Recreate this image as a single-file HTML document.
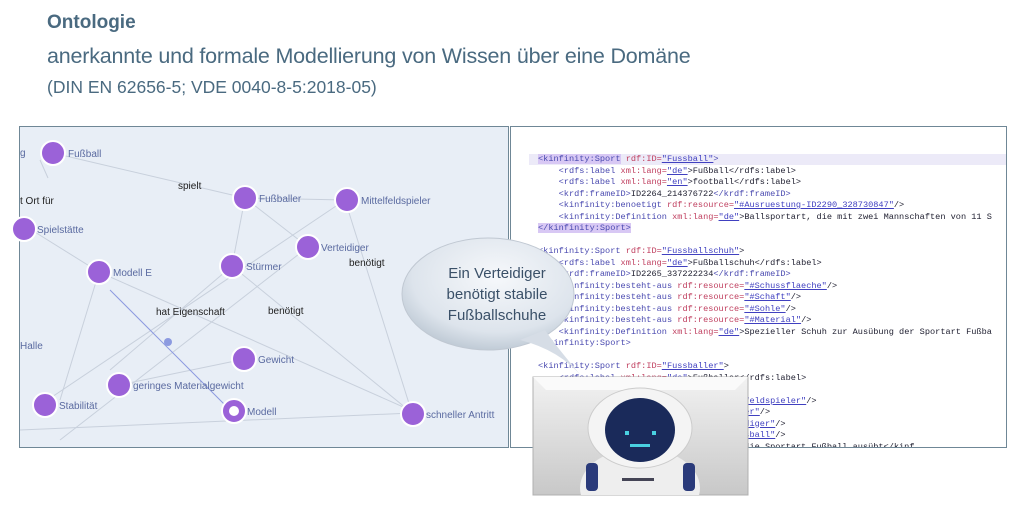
<!DOCTYPE html>
<html><head><meta charset="utf-8"><style>
body{margin:0;width:1030px;height:511px;background:#fff;position:relative;overflow:hidden;font-family:"Liberation Sans",sans-serif}
.t1{position:absolute;left:47px;top:12px;font-size:19px;font-weight:bold;color:#4a6a80}
.t2{position:absolute;left:47px;top:44px;font-size:21.5px;color:#4a6a80;letter-spacing:-0.2px}
.t3{position:absolute;left:47px;top:77px;font-size:17.5px;color:#4a6a80}
.code{position:absolute;left:510px;top:126px;width:497px;height:322px;border:1px solid #6f8796;box-sizing:border-box;background:#fff;overflow:hidden;font-family:"Liberation Mono",monospace;font-size:8.6px;line-height:11.5px;white-space:pre;color:#223}
.k{color:#4a4ab0}.a{color:#c04060}.v{color:#4040c0;text-decoration:underline}
</style></head><body>
<div class="t1">Ontologie</div>
<div class="t2">anerkannte und formale Modellierung von Wissen über eine Domäne</div>
<div class="t3">(DIN EN 62656-5; VDE 0040-8-5:2018-05)</div>

<svg style="position:absolute;left:0;top:0" width="1030" height="511">
<rect x="19.5" y="126.5" width="489" height="321" fill="#e8eef6" stroke="#6f8796"/>
<g stroke="#c8d0dc" stroke-width="1" fill="none">
<line x1="53" y1="153" x2="245" y2="198"/><line x1="245" y1="198" x2="345" y2="200"/>
<line x1="245" y1="198" x2="232" y2="266"/><line x1="245" y1="198" x2="308" y2="247"/>
<line x1="345" y1="200" x2="40" y2="405"/><line x1="345" y1="200" x2="412" y2="413"/>
<line x1="308" y1="247" x2="60" y2="440"/><line x1="232" y1="266" x2="412" y2="413"/>
<line x1="99" y1="272" x2="410" y2="410"/><line x1="99" y1="272" x2="60" y2="400"/>
<line x1="30" y1="229" x2="99" y2="272"/><line x1="40" y1="160" x2="48" y2="178"/>
<line x1="20" y1="430" x2="412" y2="413"/><line x1="119" y1="385" x2="240" y2="360"/>
<line x1="232" y1="266" x2="110" y2="370"/>
</g>
<line x1="110" y1="290" x2="230" y2="410" stroke="#8c9ae0"/>
<g fill="#9b62d8" stroke="#fff" stroke-width="2">
<circle cx="53" cy="153" r="12"/><circle cx="245" cy="198" r="12"/><circle cx="347" cy="200" r="12"/>
<circle cx="24" cy="229" r="12"/><circle cx="308" cy="247" r="12"/><circle cx="99" cy="272" r="12"/>
<circle cx="232" cy="266" r="12"/><circle cx="244" cy="359" r="12"/><circle cx="119" cy="385" r="12"/>
<circle cx="45" cy="405" r="12"/><circle cx="234" cy="411" r="12"/><circle cx="413" cy="414" r="12"/>
</g>
<circle cx="234" cy="411" r="5" fill="#fff"/>
<g font-size="10" fill="#5a6aa0">
<text x="68" y="157">Fußball</text><text x="259" y="202">Fußballer</text><text x="361" y="204">Mittelfeldspieler</text>
<text x="37" y="233">Spielstätte</text><text x="321" y="251">Verteidiger</text><text x="113" y="276">Modell E</text>
<text x="246" y="270">Stürmer</text><text x="258" y="363">Gewicht</text><text x="133" y="389">geringes Materialgewicht</text>
<text x="59" y="409">Stabilität</text><text x="247" y="415">Modell</text><text x="426" y="418">schneller Antritt</text>
<text x="20" y="349">Halle</text><text x="20" y="156">g</text>
</g>
<g font-size="10" fill="#222">
<text x="178" y="189">spielt</text><text x="20" y="204">t Ort für</text><text x="349" y="266">benötigt</text>
<text x="156" y="315">hat Eigenschaft</text><text x="268" y="314">benötigt</text>
</g>
<circle cx="168" cy="342" r="4" fill="#8c9ae0"/>
</svg>

<div class="code"><div style="position:absolute;left:18px;top:27px;width:480px;height:11px;background:#eceaf8"></div><div style="position:relative;left:27px;top:27px"><span class="k" style="background:#d8c8f4">&lt;kinfinity:Sport</span> <span class="a">rdf:ID=</span><span class="v">"Fussball"</span><span class="k">&gt;</span>
    <span class="k">&lt;rdfs:label</span> <span class="a">xml:lang=</span><span class="v">"de"</span>&gt;Fußball&lt;/rdfs:label&gt;
    <span class="k">&lt;rdfs:label</span> <span class="a">xml:lang=</span><span class="v">"en"</span>&gt;football&lt;/rdfs:label&gt;
    <span class="k">&lt;krdf:frameID&gt;</span>ID2264_214376722<span class="k">&lt;/krdf:frameID&gt;</span>
    <span class="k">&lt;kinfinity:benoetigt</span> <span class="a">rdf:resource=</span><span class="v">"#Ausruestung-ID2290_328730847"</span>/&gt;
    <span class="k">&lt;kinfinity:Definition</span> <span class="a">xml:lang=</span><span class="v">"de"</span>&gt;Ballsportart, die mit zwei Mannschaften von 11 S
<span class="k" style="background:#d8c8f4">&lt;/kinfinity:Sport&gt;</span>

<span class="k">&lt;kinfinity:Sport</span> <span class="a">rdf:ID=</span><span class="v">"Fussballschuh"</span>&gt;
    <span class="k">&lt;rdfs:label</span> <span class="a">xml:lang=</span><span class="v">"de"</span>&gt;Fußballschuh&lt;/rdfs:label&gt;
    <span class="k">&lt;krdf:frameID&gt;</span>ID2265_337222234<span class="k">&lt;/krdf:frameID&gt;</span>
    <span class="k">&lt;kinfinity:besteht-aus</span> <span class="a">rdf:resource=</span><span class="v">"#Schussflaeche"</span>/&gt;
    <span class="k">&lt;kinfinity:besteht-aus</span> <span class="a">rdf:resource=</span><span class="v">"#Schaft"</span>/&gt;
    <span class="k">&lt;kinfinity:besteht-aus</span> <span class="a">rdf:resource=</span><span class="v">"#Sohle"</span>/&gt;
    <span class="k">&lt;kinfinity:besteht-aus</span> <span class="a">rdf:resource=</span><span class="v">"#Material"</span>/&gt;
    <span class="k">&lt;kinfinity:Definition</span> <span class="a">xml:lang=</span><span class="v">"de"</span>&gt;Spezieller Schuh zur Ausübung der Sportart Fußba
<span class="k">&lt;/kinfinity:Sport&gt;</span>

<span class="k">&lt;kinfinity:Sport</span> <span class="a">rdf:ID=</span><span class="v">"Fussballer"</span>&gt;
    <span class="k">&lt;rdfs:label</span> <span class="a">xml:lang=</span><span class="v">"de"</span>&gt;Fußballer&lt;/rdfs:label&gt;
    <span class="k">&lt;krdf:frameID&gt;</span>ID2266<span class="k">&lt;/krdf:frameID&gt;</span>
    <span class="k">&lt;kinfinity:hat</span> <span class="a">rdf:resource=</span><span class="v">"#Mittelfeldspieler"</span>/&gt;
    <span class="k">&lt;kinfinity:hat</span> <span class="a">rdf:resource=</span><span class="v">"#Stuermer"</span>/&gt;
    <span class="k">&lt;kinfinity:hat</span> <span class="a">rdf:resource=</span><span class="v">"#Verteidiger"</span>/&gt;
    <span class="k">&lt;kinfinity:spielt</span> <span class="a">rdf:resource=</span><span class="v">"#Fussball"</span>/&gt;
    <span class="k">&lt;kinfinity:Definition</span>&gt;Sportler, der die Sportart Fußball ausübt&lt;/kinf
</div></div>

<svg style="position:absolute;left:0;top:0" width="1030" height="511">
<defs>
<radialGradient id="bg" cx="0.55" cy="0.35" r="0.7"><stop offset="0" stop-color="#f6f8fb"/><stop offset="0.7" stop-color="#dde4ec"/><stop offset="1" stop-color="#b8c4d0"/></radialGradient>
<linearGradient id="rb" x1="0" y1="0" x2="0" y2="1"><stop offset="0" stop-color="#f2f2f2"/><stop offset="1" stop-color="#c8c8c8"/></linearGradient>
<clipPath id="rc"><rect x="533" y="377" width="215" height="118"/></clipPath>
</defs>
<ellipse cx="488" cy="294" rx="86" ry="56" fill="url(#bg)" stroke="#c0c8d2"/>
<path d="M520,340 Q560,350 583,378 Q555,345 545,330 Z" fill="#d6dde6"/>
<text font-size="15" fill="#3a5068" text-anchor="middle"><tspan x="497" y="278">Ein Verteidiger</tspan><tspan x="497" y="299">benötigt stabile</tspan><tspan x="497" y="320">Fußballschuhe</tspan></text>
<rect x="533" y="377" width="215" height="118" fill="url(#rb)" stroke="#b0b0b0"/>
<polygon points="533,377 748,377 735,390 546,390" fill="#fafafa"/>
<g clip-path="url(#rc)">
<ellipse cx="640" cy="488" rx="60" ry="40" fill="#eee"/>
<ellipse cx="640" cy="428" rx="52" ry="40" fill="#f4f4f4" stroke="#ccc"/>
<ellipse cx="640" cy="430" rx="35" ry="32" fill="#1a2a5a"/>
<rect x="586" y="463" width="12" height="28" rx="4" fill="#2a3a7a"/>
<rect x="683" y="463" width="12" height="28" rx="4" fill="#2a3a7a"/>
<g fill="#4ad0e0"><rect x="625" y="431" width="4" height="4"/><rect x="652" y="431" width="4" height="4"/><rect x="630" y="444" width="20" height="3"/></g>
<rect x="622" y="478" width="32" height="3" fill="#445"/>
</g>
</svg>
</body></html>
